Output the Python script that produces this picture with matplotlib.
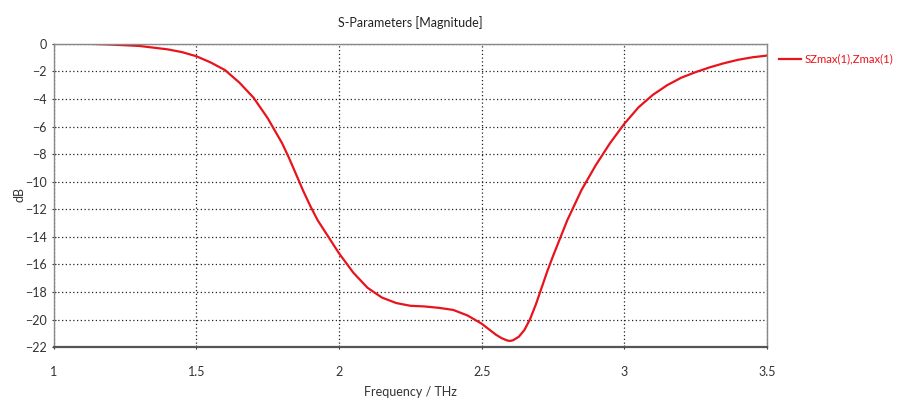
import matplotlib
matplotlib.use("Agg")
import matplotlib.pyplot as plt
from matplotlib.lines import Line2D

freq = [1.0, 1.1, 1.2, 1.3, 1.4, 1.45, 1.5, 1.55, 1.6, 1.65, 1.7, 1.75, 1.8, 1.825,
        1.85, 1.875, 1.9, 1.925, 1.95, 2.0, 2.05, 2.1, 2.15, 2.2, 2.25, 2.3, 2.35,
        2.4, 2.45, 2.5, 2.55, 2.57, 2.59, 2.6, 2.61, 2.63, 2.65, 2.67, 2.69, 2.71,
        2.73, 2.75, 2.8, 2.85, 2.9, 2.95, 3.0, 3.05, 3.1, 3.15, 3.2, 3.25, 3.3,
        3.35, 3.4, 3.45, 3.5]
s_db = [0.05, 0.02, -0.05, -0.15, -0.4, -0.6, -0.9, -1.35, -1.9, -2.8, -3.9, -5.4,
        -7.2, -8.3, -9.5, -10.7, -11.8, -12.8, -13.6, -15.2, -16.6, -17.7, -18.4,
        -18.8, -19.0, -19.05, -19.15, -19.3, -19.7, -20.3, -21.1, -21.35, -21.52,
        -21.55, -21.5, -21.25, -20.75, -19.95, -18.9, -17.7, -16.5, -15.4, -12.8,
        -10.6, -8.8, -7.2, -5.8, -4.6, -3.7, -3.0, -2.45, -2.05, -1.7, -1.4,
        -1.15, -0.97, -0.85]
xticks = [1, 1.5, 2, 2.5, 3, 3.5]
xticklabels = ["1", "1.5", "2", "2.5", "3", "3.5"]
yticks = list(range(0, -23, -2))
series_label = "SZmax(1),Zmax(1)"

plt.rcParams['font.family'] = ['Lato', 'DejaVu Sans']
RED = "#e8141c"
fig = plt.figure(figsize=(8.98, 3.99), dpi=100)
ax = fig.add_axes([0.060, 0.130, 0.794, 0.760])

ax.plot(freq, s_db, color=RED, linewidth=1.6, label=series_label)
ax.set_xlim(1, 3.5)
ax.set_ylim(-22, 0)
ax.set_xticks(xticks)
ax.set_xticklabels(xticklabels)
ax.set_yticks(yticks)
ax.tick_params(labelsize=9, colors="#333333", length=3, direction="inout")
ax.tick_params(axis="x", pad=12)
ax.grid(True, color="#222222", linestyle=(0, (1, 2)), linewidth=0.9)
for side in ["left", "right", "top"]:
    ax.spines[side].set_color("#888888")
    ax.spines[side].set_linewidth(1.0)
ax.spines["bottom"].set_color("#555555")
ax.spines["bottom"].set_linewidth(1.6)

ax.set_title("S-Parameters [Magnitude]", fontsize=9, color="#222222", pad=12)
ax.set_xlabel("Frequency / THz", fontsize=9, color="#333333", labelpad=6)
fig.text(20 / 898, 1 - 195 / 399, "dB", rotation=90, fontsize=9,
         color="#333333", ha="center", va="center")

# legend drawn at the figure's right margin
ly = 1 - 59 / 399
fig.add_artist(Line2D([779 / 898, 801 / 898], [ly, ly], color=RED,
                      linewidth=1.6, transform=fig.transFigure))
fig.text(805 / 898, ly, series_label, fontsize=8.2, color=RED,
         ha="left", va="center")

fig.savefig("out.png", dpi=100)
